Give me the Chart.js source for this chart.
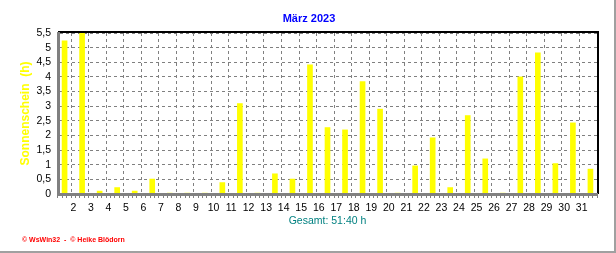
<!DOCTYPE html>
<html lang="de">
<head>
<meta charset="utf-8" />
<title>Sonnenschein März 2023</title>
<script src="https://cdn.jsdelivr.net/npm/chart.js@4.4.1/dist/chart.umd.min.js"></script>
<style>
    body { margin: 0; background: #fff; }
    .frame {
        width: 614px;
        height: 251px;
        border-right: 2px solid #a0a0a0;
        border-bottom: 2px solid #a0a0a0;
    }
    canvas { display: block; }
</style>
</head>
<body>
<div class="frame">
    <canvas id="sunChart" width="614" height="251"></canvas>
</div>
<script>
    // Tage im März und Sonnenstunden pro Tag
    const days = [1, 2, 3, 4, 5, 6, 7, 8, 9, 10, 11, 12, 13, 14, 15, 16,
        17, 18, 19, 20, 21, 22, 23, 24, 25, 26, 27, 28, 29, 30, 31];
    const sunHours = [5.23, 5.5, 0.1, 0.22, 0.1, 0.51, 0.03, 0.03, 0.03, 0.39, 3.09, 0.03, 0.69, 0.51, 4.41, 2.27,
        2.19, 3.84, 2.9, 0.03, 0.96, 1.92, 0.22, 2.68, 1.2, 0.03, 4.0, 4.82, 1.04, 2.43, 0.85];
    const chartTitle = 'März 2023';
    const yTitle = 'Sonnenschein  (h)';
    const xTitle = 'Gesamt: 51:40 h';
    const footer = '© WsWin32  -  © Heike Blödorn';

    Chart.defaults.font.family = "'Liberation Sans', Arial, sans-serif";
    Chart.defaults.color = '#000';

    const grey = '#808080';

    // oberer und rechter Rahmen + Fusszeile
    const frameLines = {
        id: 'frameLines',
        afterDatasetsDraw(chart) {
            const { ctx, chartArea: a } = chart;
            ctx.save();
            ctx.strokeStyle = '#000';
            ctx.lineWidth = 2;
            ctx.beginPath();
            ctx.moveTo(a.left, a.top - 1);
            ctx.lineTo(a.right + 1, a.top - 1);
            ctx.lineTo(a.right + 1, a.bottom);
            ctx.stroke();
            ctx.restore();
        },
        afterDraw(chart) {
            const ctx = chart.ctx;
            ctx.save();
            ctx.fillStyle = '#ff0000';
            ctx.font = "bold 7px 'Liberation Sans', Arial, sans-serif";
            ctx.textBaseline = 'middle';
            ctx.fillText(footer, 22, 240);
            ctx.restore();
        }
    };

    new Chart(document.getElementById('sunChart'), {
        type: 'bar',
        data: {
            datasets: [{
                label: 'Sonnenschein',
                data: days.map((d, i) => ({ x: d + 0.5, y: sunHours[i] })),
                backgroundColor: '#ffff00',
                borderWidth: 0,
                barThickness: 5,
            }],
        },
        options: {
            responsive: false,
            animation: false,
            events: [],
            layout: { padding: { left: 4, right: 0, top: 0, bottom: 0 } },
            plugins: {
                legend: { display: false },
                tooltip: { enabled: false },
                title: {
                    display: true,
                    text: chartTitle,
                    color: '#0000ff',
                    font: { size: 11, weight: 'bold' },
                    padding: { top: 12, bottom: 7.8 },
                },
            },
            scales: {
                x: {
                    type: 'linear',
                    min: 1.25,
                    max: 31.75,
                    afterFit(scale) { scale.height = 57; },
                    ticks: {
                        stepSize: 0.25,
                        includeBounds: false,
                        autoSkip: false,
                        maxRotation: 0,
                        padding: 4,
                        font: { size: 10.5 },
                        callback: (v) => (Number.isInteger(v) && v >= 2 ? String(v) : ''),
                    },
                    grid: {
                        color: (c) => (c.tick && Number.isInteger(c.tick.value) ? grey : 'rgba(0,0,0,0)'),
                        tickColor: grey,
                        tickLength: 4,
                        lineWidth: 1,
                    },
                    border: { color: grey, width: 3, dash: [3, 3], z: 1 },
                    title: {
                        display: true,
                        text: xTitle,
                        color: '#008080',
                        font: { size: 10.5 },
                        padding: { bottom: 23.7 },
                    },
                },
                y: {
                    min: 0,
                    max: 5.5,
                    afterFit(scale) { scale.width = 54; },
                    ticks: {
                        stepSize: 0.5,
                        autoSkip: false,
                        padding: 7,
                        font: { size: 10.5 },
                        callback: (v) => String(v).replace('.', ','),
                    },
                    grid: { color: grey, drawTicks: false, lineWidth: 1 },
                    border: { color: grey, width: 3, dash: [3, 3], z: 1 },
                    title: {
                        display: true,
                        text: yTitle,
                        color: '#ffff00',
                        font: { size: 12, weight: 'bold' },
                        padding: { top: 14 },
                    },
                },
                yRight: {
                    position: 'right',
                    afterFit(scale) { scale.width = 17; },
                    grid: { display: false },
                    ticks: { display: false },
                    border: { display: false },
                },
            },
        },
        plugins: [frameLines],
    });
</script>
</body>
</html>
